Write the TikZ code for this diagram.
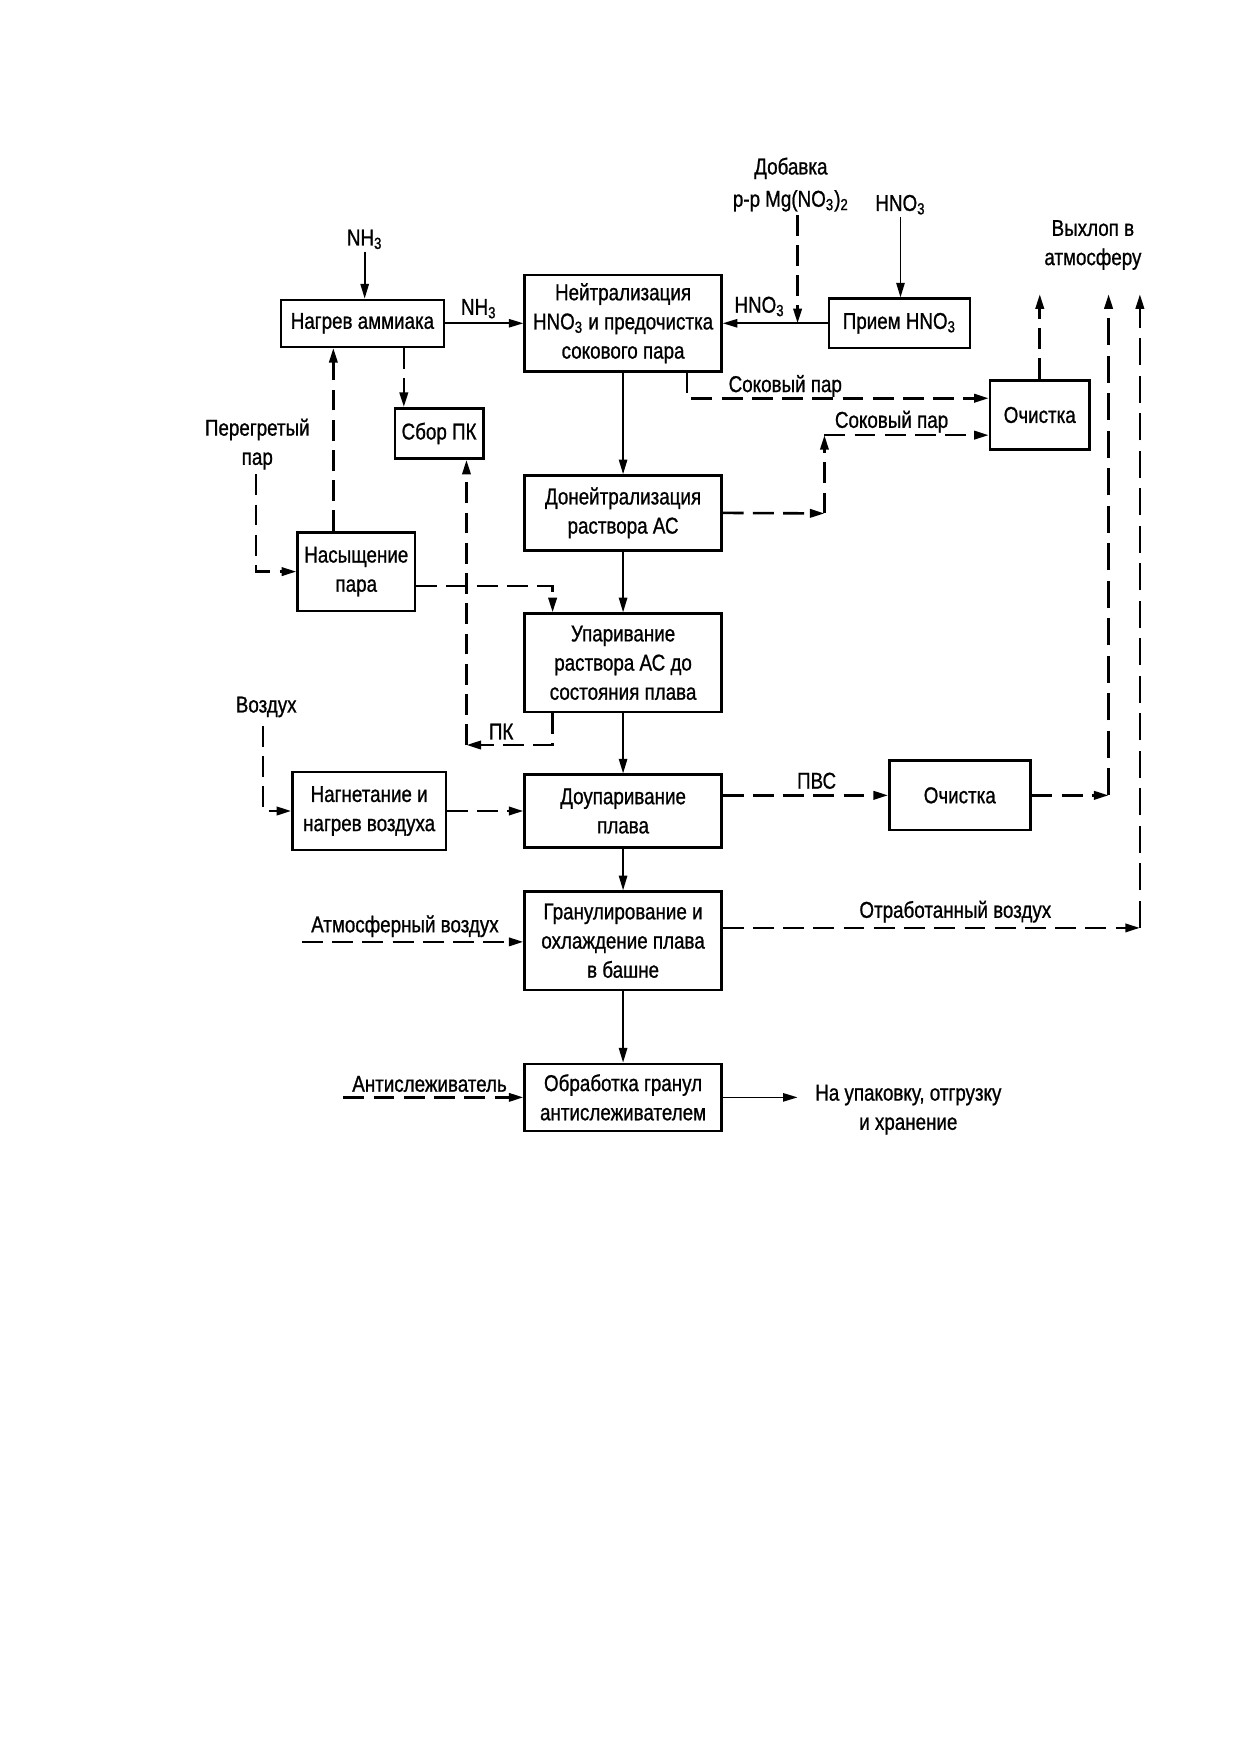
\documentclass[tikz,border=0pt]{standalone}
\usepackage{fontspec}
\setmainfont{Liberation Sans}[FakeStretch=0.82,FakeBold=0.9]
\usetikzlibrary{arrows.meta}
\begin{document}
\begin{tikzpicture}[x=0.5368pt,y=-0.5368pt,
  box/.style 2 args={draw, line width=1.2pt, minimum width=#1*0.5368pt, minimum height=#2*0.5368pt,
     inner sep=0pt, align=center, font=\fontsize{11}{14}\selectfont},
  lbl/.style={inner sep=1pt, align=center, font=\fontsize{11}{14}\selectfont},
  flow/.style={line width=0.8pt, -{Triangle[length=7pt,width=4pt]}},
  dflow/.style={line width=1.25pt, dash pattern=on 10pt off 4.5pt, -{Triangle[length=7pt,width=4pt]}},
  lflow/.style={line width=1.25pt, dash pattern=on 13pt off 5pt, -{Triangle[length=7pt,width=4pt]}}]
\fill[white] (0,0) rectangle (1109,1568);
\useasboundingbox (0,0) rectangle (1109,1568);

% boxes
\node[box={146}{42}] (nagrev) at (324,289) {Нагрев аммиака};
\node[box={176}{86}] (neut) at (557,289) {Нейтрализация\\HNO\textsubscript{3} и предочистка\\сокового пара};
\node[box={126}{44}] (priem) at (804,289) {Прием HNO\textsubscript{3}};
\node[box={79}{45}] (sbor) at (392.5,387.5) {Сбор ПК};
\node[box={89}{62}] (och1) at (929.5,371) {Очистка};
\node[box={176}{67}] (doneut) at (557,458.5) {Донейтрализация\\раствора АС};
\node[box={105}{70}] (nas) at (318.5,511) {Насыщение\\пара};
\node[box={176}{88}] (upar) at (557,592.5) {Упаривание\\раствора АС до\\состояния плава};
\node[box={137}{70}] (nagn) at (330,725) {Нагнетание и\\нагрев воздуха};
\node[box={176}{65}] (doupar) at (557,725) {Доупаривание\\плава};
\node[box={126}{62}] (och2) at (858,711) {Очистка};
\node[box={176}{88}] (gran) at (557,841) {Гранулирование и\\охлаждение плава\\в башне};
\node[box={176}{60}] (obr) at (557,981) {Обработка гранул\\антислеживателем};

% labels
\node[lbl] (lNH3a) at (326,214) {NH\textsubscript{3}};
\node[lbl] (lNH3b) at (428,276) {NH\textsubscript{3}};
\node[lbl] (lHNO3a) at (679,274) {HNO\textsubscript{3}};
\node[lbl, font=\fontsize{11}{15.5}\selectfont] (ldob) at (707,165) {Добавка\\р-р Mg(NO\textsubscript{3})\textsubscript{2}};
\node[lbl] (lHNO3b) at (805,183) {HNO\textsubscript{3}};
\node[lbl] (lvyh) at (977,219) {Выхлоп в\\атмосферу};
\node[lbl] (lper) at (230,397) {Перегретый\\пар};
\node[lbl] (lsok1) at (702,345) {Соковый пар};
\node[lbl] (lsok2) at (797,377) {Соковый пар};
\node[lbl] (lpk) at (448,654) {ПК};
\node[lbl] (lvozd) at (238,632) {Воздух};
\node[lbl] (lpvs) at (730,698) {ПВС};
\node[lbl] (latm) at (362,828) {Атмосферный воздух};
\node[lbl] (lotr) at (854,815) {Отработанный воздух};
\node[lbl] (lanti) at (384,969) {Антислеживатель};
\node[lbl] (lout) at (812,992) {На упаковку, отгрузку\\и хранение};

% helper coordinates
\coordinate (dobtop) at (713,192);
\coordinate (xpk) at (361,0);
\coordinate (xnas) at (298,0);
\coordinate (pertop) at (229,424);
\coordinate (ynas) at (0,524);
\coordinate (xn2) at (494,0);
\coordinate (pkc) at (417,666);
\coordinate (outend) at (713,981);
\coordinate (xs1) at (614,0);
\coordinate (ys1) at (0,356);
\coordinate (c1) at (737,459);
\coordinate (c2) at (737,389);
\coordinate (top1) at (930,263);
\coordinate (c3) at (991,711);
\coordinate (top2) at (991,263);
\coordinate (c4) at (1019,829.5);
\coordinate (top3) at (1019,263);
\coordinate (vozdtop) at (235,649);
\coordinate (atmst) at (270,842);
\coordinate (antist) at (307,981);

% solid flows
\draw[flow] (lNH3a.south) -- (lNH3a.south |- nagrev.north);
\draw[flow] (nagrev.east) -- (neut.west |- nagrev.east);
\draw[flow] (priem.west) -- (neut.east |- priem.west);
\draw[flow] (lHNO3b.south) -- (lHNO3b.south |- priem.north);
\draw[flow] (neut.south) -- (doneut.north);
\draw[flow] (doneut.south) -- (upar.north);
\draw[flow] (upar.south) -- (doupar.north);
\draw[flow] (doupar.south) -- (gran.north);
\draw[flow] (gran.south) -- (obr.north);
\draw[flow] (obr.east) -- (outend);

% dashed flows
\draw[dflow] (dobtop) -- (dobtop |- priem.west);
\draw[dflow] (nagrev.south -| xpk) -- (sbor.north -| xpk);
\draw[dflow] (nas.north -| xnas) -- (nagrev.south -| xnas);
\draw[dflow] (pertop) |- (nas.west);
\draw[dflow] (nas.east |- ynas) -| (upar.north -| xn2);
\draw[dflow] (upar.south -| xn2) |- (pkc);
\draw[dflow] (pkc) -- (sbor.south -| pkc);
\draw[dflow] (neut.south -| xs1) |- (och1.west |- ys1);
\draw[dflow] (doneut.east) -- (c1);
\draw[dflow] (c1) -- (c2);
\draw[dflow] (c2) -- (och1.west |- c2);
\draw[dflow] (och1.north) -- (och1.north |- top1);
\draw[dflow] (doupar.east |- och2.west) -- (och2.west);
\draw[dflow] (och2.east) -- (c3);
\draw[lflow] (c3) -- (top2);
\draw[dflow] (gran.east |- c4) -- (c4);
\draw[lflow] (c4) -- (top3);
\draw[dflow] (vozdtop) |- (nagn.west);
\draw[dflow] (nagn.east) -- (doupar.west |- nagn.east);
\draw[dflow] (atmst) -- (gran.west |- atmst);
\draw[dflow] (antist) -- (obr.west |- antist);
\end{tikzpicture}
\end{document}
